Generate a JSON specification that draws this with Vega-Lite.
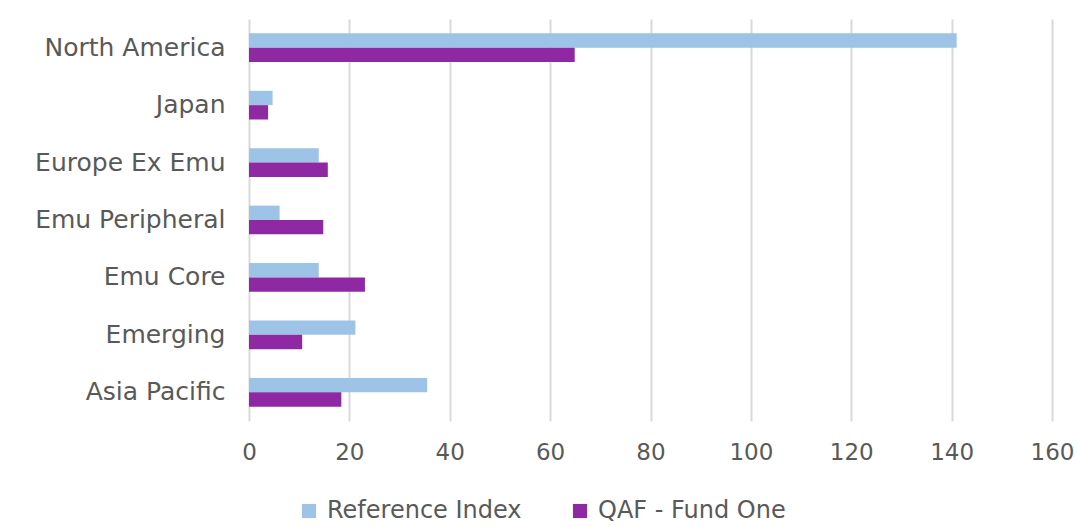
{
  "$schema": "https://vega.github.io/schema/vega-lite/v6.json",
  "width": 803,
  "height": 402,
  "autosize": {"type": "none"},
  "padding": {"left": 249, "top": 19, "right": 25, "bottom": 106},
  "background": "white",
  "config": {
    "font": "DejaVu Sans",
    "view": {"stroke": null},
    "axis": {"labelColor": "#595959", "labelFont": "DejaVu Sans", "labelFontSize": 24, "title": null}
  },
  "data": {
    "values": [
      {"region": "North America", "series": "Reference Index", "value": 141},
      {"region": "North America", "series": "QAF - Fund One", "value": 64.9},
      {"region": "Japan", "series": "Reference Index", "value": 4.7},
      {"region": "Japan", "series": "QAF - Fund One", "value": 3.8},
      {"region": "Europe Ex Emu", "series": "Reference Index", "value": 13.9},
      {"region": "Europe Ex Emu", "series": "QAF - Fund One", "value": 15.7},
      {"region": "Emu Peripheral", "series": "Reference Index", "value": 6.1},
      {"region": "Emu Peripheral", "series": "QAF - Fund One", "value": 14.8},
      {"region": "Emu Core", "series": "Reference Index", "value": 13.9},
      {"region": "Emu Core", "series": "QAF - Fund One", "value": 23.1},
      {"region": "Emerging", "series": "Reference Index", "value": 21.2},
      {"region": "Emerging", "series": "QAF - Fund One", "value": 10.6},
      {"region": "Asia Pacific", "series": "Reference Index", "value": 35.5},
      {"region": "Asia Pacific", "series": "QAF - Fund One", "value": 18.4}
    ]
  },
  "mark": {"type": "bar"},
  "encoding": {
    "y": {
      "field": "region",
      "type": "nominal",
      "sort": ["North America", "Japan", "Europe Ex Emu", "Emu Peripheral", "Emu Core", "Emerging", "Asia Pacific"],
      "scale": {"paddingInner": 0.5, "paddingOuter": 0.25},
      "axis": {"domain": false, "ticks": false, "labelPadding": 24, "labelLimit": 300, "labelFontSize": 25}
    },
    "yOffset": {
      "field": "series",
      "type": "nominal",
      "sort": ["Reference Index", "QAF - Fund One"]
    },
    "x": {
      "field": "value",
      "type": "quantitative",
      "scale": {"domain": [0, 160], "nice": false},
      "axis": {"values": [0, 20, 40, 60, 80, 100, 120, 140, 160], "domain": false, "ticks": false, "labelPadding": 20, "gridColor": "#d9d9d9", "gridWidth": 2, "labelFlush": false, "labelFontSize": 23}
    },
    "color": {
      "field": "series",
      "type": "nominal",
      "sort": ["Reference Index", "QAF - Fund One"],
      "scale": {"domain": ["Reference Index", "QAF - Fund One"], "range": ["#9dc3e6", "#8f29a3"]},
      "legend": {
        "title": null,
        "orient": "none",
        "direction": "horizontal",
        "legendX": 48,
        "legendY": 480,
        "symbolType": "square",
        "symbolSize": 200,
        "symbolStrokeWidth": 0,
        "labelFontSize": 24,
        "labelColor": "#595959",
        "labelFont": "DejaVu Sans",
        "labelLimit": 400,
        "columnPadding": 46,
        "labelOffset": 6
      }
    }
  }
}
